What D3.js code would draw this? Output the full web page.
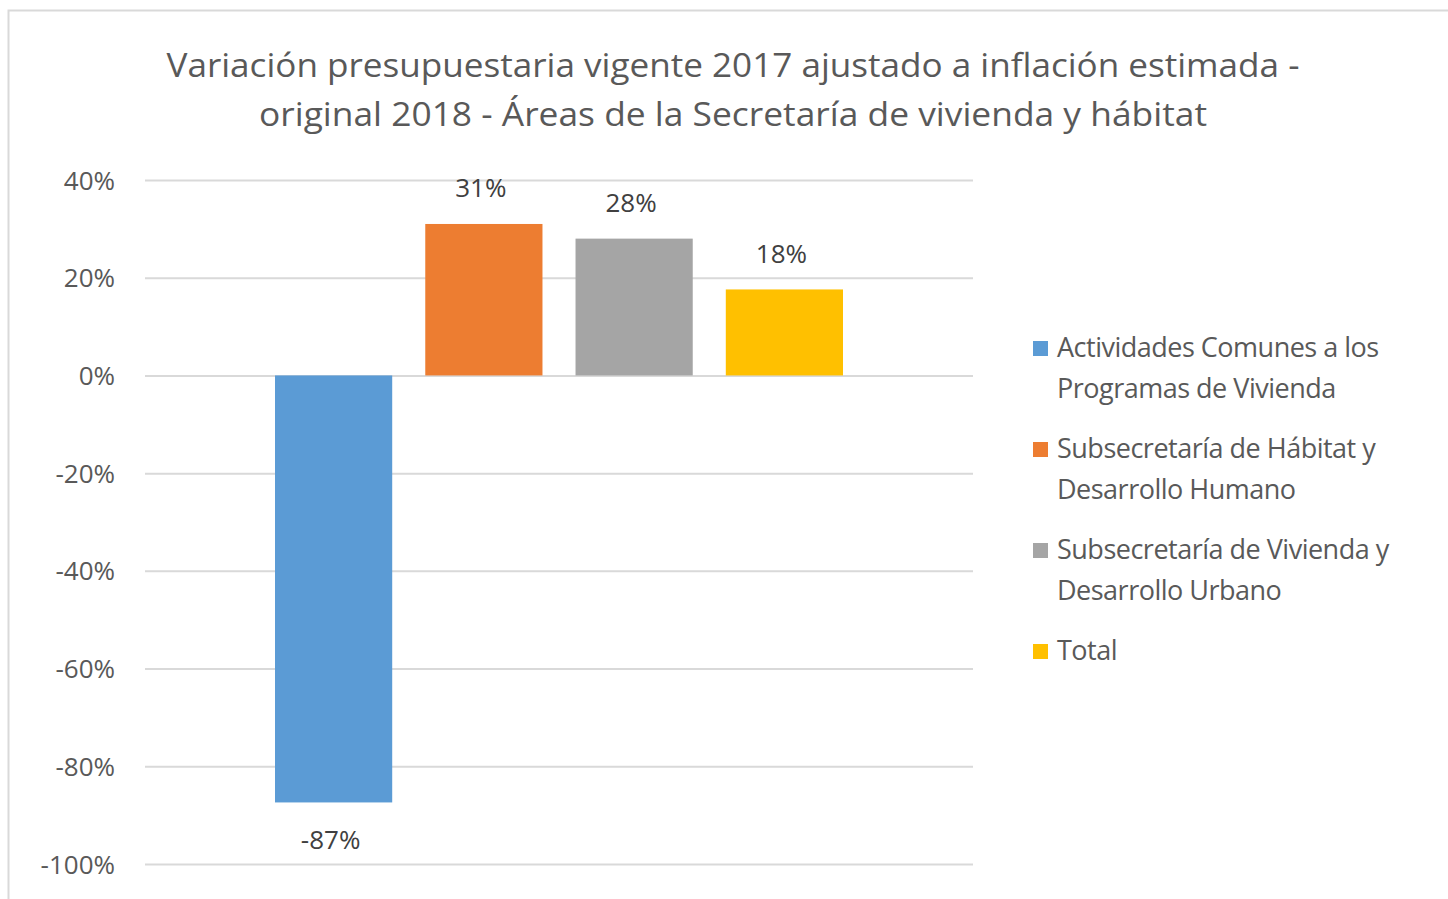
<!DOCTYPE html>
<html>
<head>
<meta charset="utf-8">
<script src="https://cdn.jsdelivr.net/npm/d3@7"></script>
<style>
  html, body { margin: 0; padding: 0; background: #fff; }
  svg { display: block; }
  text { font-family: "Liberation Sans Narrow", "Open Sans", "Noto Sans", sans-serif; }
</style>
</head>
<body>
<svg id="chart" width="1448" height="899"></svg>
<script>
const titleLines = [
  "Variación presupuestaria vigente 2017 ajustado a inflación estimada -",
  "original 2018 - Áreas de la Secretaría de vivienda y hábitat"
];
const series = [
  "Actividades Comunes a los Programas de Vivienda",
  "Subsecretaría de Hábitat y Desarrollo Humano",
  "Subsecretaría de Vivienda y Desarrollo Urbano",
  "Total"
];
const legendLines = [
  ["Actividades Comunes a los", "Programas de Vivienda"],
  ["Subsecretaría de Hábitat y", "Desarrollo Humano"],
  ["Subsecretaría de Vivienda y", "Desarrollo Urbano"],
  ["Total"]
];
const values = [-0.874, 0.31, 0.28, 0.176];
const colors = ["#5B9BD5", "#ED7D31", "#A5A5A5", "#FFC000"];
const yTicks = [0.4, 0.2, 0, -0.2, -0.4, -0.6, -0.8, -1.0];

const svg = d3.select("#chart");

// chart border
svg.append("rect").attr("x", 8.5).attr("y", 10.5).attr("width", 1460).attr("height", 920)
  .attr("fill", "#fff").attr("stroke", "#d9d9d9").attr("stroke-width", 2);

// title
const titleWidths = [1133, 948];
svg.selectAll(".title").data(titleLines).join("text")
  .attr("class", "title")
  .attr("x", 733).attr("y", (d, i) => 77 + i * 49)
  .attr("text-anchor", "middle")
  .attr("font-size", 33)
  .attr("fill", "#595959")
  .attr("textLength", (d, i) => titleWidths[i])
  .attr("lengthAdjust", "spacingAndGlyphs")
  .text(d => d);

const plot = { left: 145, right: 973, top: 180, bottom: 864 };
const y = d3.scaleLinear().domain([-1, 0.4]).range([plot.bottom, plot.top]);
const x = d3.scaleBand().domain(series).range([275, 843]).paddingInner(33 / 150).paddingOuter(0);

const fmt = v => Math.round(v * 100) + "%";

// gridlines
const yAxis = d3.axisLeft(y).tickValues(yTicks).tickFormat(fmt)
  .tickSize(-(plot.right - plot.left)).tickPadding(30);
const gAxis = svg.append("g").attr("transform", `translate(${plot.left},0)`).call(yAxis);
gAxis.select(".domain").remove();
gAxis.selectAll(".tick line").attr("stroke", "#d9d9d9").attr("stroke-width", 2);
gAxis.selectAll(".tick text").attr("fill", "#595959").attr("font-size", 26)
  .attr("font-family", "'Open Sans', sans-serif").attr("dy", "0.35em");

// bars
svg.selectAll(".bar").data(values).join("rect")
  .attr("class", "bar")
  .attr("x", (d, i) => x(series[i]))
  .attr("width", x.bandwidth())
  .attr("y", d => y(Math.max(0, d)))
  .attr("height", d => Math.abs(y(d) - y(0)))
  .attr("fill", (d, i) => colors[i]);

// labels
svg.selectAll(".lbl").data(values).join("text")
  .attr("class", "lbl")
  .attr("x", (d, i) => x(series[i]) + x.bandwidth() / 2 - 3)
  .attr("y", d => d >= 0 ? y(d) - 36 : y(d) + 37)
  .attr("dy", "0.35em")
  .attr("text-anchor", "middle")
  .attr("font-size", 26)
  .attr("font-family", "'Open Sans', sans-serif")
  .attr("fill", "#404040")
  .text(d => fmt(d));

// legend
const lg = svg.append("g");
const itemY = [348, 449, 550, 651];
legendLines.forEach((lines, i) => {
  lg.append("rect").attr("x", 1033).attr("y", itemY[i] - 7).attr("width", 15).attr("height", 15)
    .attr("fill", colors[i]);
  lines.forEach((ln, j) => {
    lg.append("text").attr("x", 1057).attr("y", itemY[i] + j * 41)
      .attr("dy", "0.35em")
      .attr("font-size", 27)
      .attr("font-family", "'Open Sans', sans-serif")
      .attr("fill", "#595959")
      .attr("letter-spacing", -0.5)
      .text(ln);
  });
});
</script>
</body>
</html>
